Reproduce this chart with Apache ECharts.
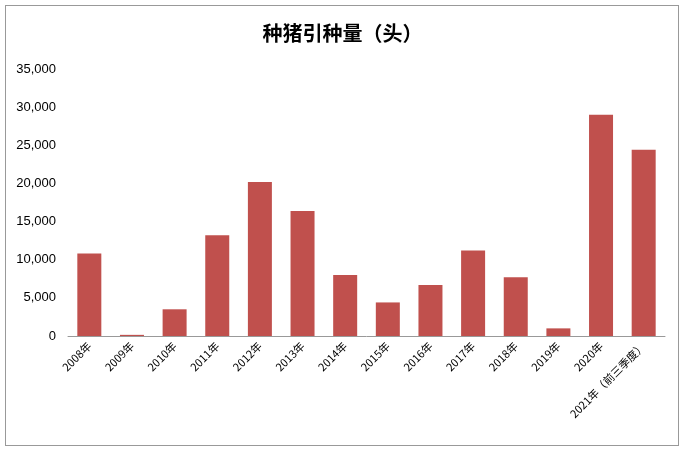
<!DOCTYPE html>
<html><head><meta charset="utf-8">
<script src="https://cdn.jsdelivr.net/npm/echarts@6/dist/echarts.min.js"></script>
<style>html,body{margin:0;padding:0;background:#fff}#c{width:685px;height:452px}
#f{position:absolute;left:5px;top:5px;width:674px;height:441px;border:1px solid #999;box-sizing:border-box;pointer-events:none}</style>
</head><body><div id="c"></div><div id="f"></div>
<script>
const categories = ['2008年','2009年','2010年','2011年','2012年','2013年','2014年','2015年','2016年','2017年','2018年','2019年','2020年','2021年（前三季度）'];
const values = [10800,150,3500,13200,20200,16400,8000,4400,6700,11200,7700,1000,29000,24400];
const yTicks = {min:0,max:35000,interval:5000};
const chart = echarts.init(document.getElementById('c'));
chart.setOption({
  animation:false,
  title:{text:'种猪引种量（头）',left:'center',top:18,textStyle:{fontSize:20,fontWeight:'bold',color:'#000',fontFamily:'Noto Sans CJK SC'}},
  grid:{left:68,right:20,top:69,bottom:116},
  xAxis:{type:'category',data:categories,axisTick:{show:false},
    axisLine:{lineStyle:{color:'#999'}},
    axisLabel:{rotate:45,interval:0,fontSize:11,color:'#000',margin:8,fontFamily:'Noto Sans CJK SC'}},
  yAxis:{type:'value',min:yTicks.min,max:yTicks.max,interval:yTicks.interval,
    splitLine:{show:false},axisLine:{show:false},axisTick:{show:false},
    axisLabel:{fontSize:13,color:'#000',margin:12}},
  series:[{type:'bar',data:values,barWidth:24,itemStyle:{color:'#c0504d'}}]
});
</script></body></html>
